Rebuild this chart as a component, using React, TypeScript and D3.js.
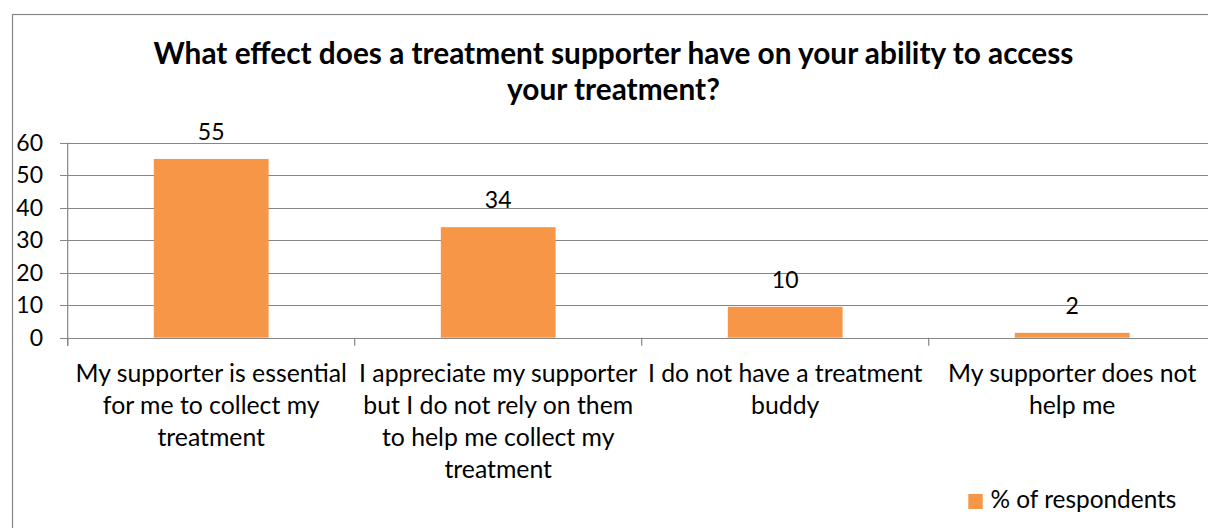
import React from 'react';
import * as d3 from 'd3';

const titleLines = [
  'What effect does a treatment supporter have on your ability to access',
  'your treatment?',
];
const categories = [
  'My supporter is essential\nfor me to collect my\ntreatment',
  'I appreciate my supporter\nbut I do not rely on them\nto help me collect my\ntreatment',
  'I do not have a treatment\nbuddy',
  'My supporter does not\nhelp me',
];
const values = [55, 34, 9.5, 1.5];
const yTicks = [0, 10, 20, 30, 40, 50, 60];
const seriesName = '% of respondents';

const W = 1208;
const H = 528;
const FONT = 'Lato, "Open Sans", sans-serif';
const GRID = '#868686';
const BAR = '#F79646';

export default function App() {
  const left = 67.7;
  const right = 1215.7;
  const top = 142.7;
  const bottom = 337.7;

  const x = d3
    .scaleBand<string>()
    .domain(categories)
    .range([left, right])
    .paddingInner(0.6)
    .paddingOuter(0.3);
  const y = d3.scaleLinear().domain([0, 60]).range([bottom, top]);
  const step = x.step();
  const fmt = d3.format('.0f');

  return (
    <svg
      width={W}
      height={H}
      style={{ position: 'fixed', left: 0, top: 0, background: '#fff' }}
      fontFamily={FONT}
    >
      <rect x={0} y={0} width={W} height={H} fill="#fff" />
      <rect x={12.5} y={14.5} width={1210} height={530} fill="none" stroke={GRID} strokeWidth={1.2} />

      {titleLines.map((t, i) => (
        <text
          key={i}
          x={613.5}
          y={64 + i * 36}
          textAnchor="middle"
          fontSize={29.8}
          fontWeight="bold"
          fill="#000"
        >
          {t}
        </text>
      ))}

      {yTicks.map((t) => (
        <g key={t}>
          <line x1={60} x2={right} y1={Math.round(y(t)) + 0.5} y2={Math.round(y(t)) + 0.5} stroke={GRID} strokeWidth={1.2} />
          <text x={43} y={y(t) + 8} textAnchor="end" fontSize={23} fill="#000">
            {t}
          </text>
        </g>
      ))}

      <line x1={left} x2={left} y1={top} y2={bottom + 8} stroke={GRID} strokeWidth={1.2} />
      {categories.map((c, i) => (
        <line
          key={'tk' + i}
          x1={left + step * i}
          x2={left + step * i}
          y1={bottom}
          y2={bottom + 8}
          stroke={GRID}
          strokeWidth={1.2}
        />
      ))}

      {categories.map((c, i) => (
        <rect
          key={'b' + i}
          x={x(c)}
          y={y(values[i])}
          width={x.bandwidth()}
          height={bottom - y(values[i])}
          fill={BAR}
        />
      ))}

      {categories.map((c, i) => (
        <text
          key={'v' + i}
          x={(x(c) as number) + x.bandwidth() / 2}
          y={y(values[i]) - 19}
          textAnchor="middle"
          fontSize={23}
          fill="#000"
        >
          {fmt(values[i])}
        </text>
      ))}

      {categories.map((c, i) => (
        <text
          key={'c' + i}
          x={(x(c) as number) + x.bandwidth() / 2}
          textAnchor="middle"
          fontSize={24.8}
          fill="#000"
        >
          {c.split('\n').map((ln, j) => (
            <tspan key={j} x={(x(c) as number) + x.bandwidth() / 2} y={382 + j * 32}>
              {ln}
            </tspan>
          ))}
        </text>
      ))}

      <rect x={968.3} y={494} width={14.4} height={15} fill={BAR} />
      <text x={990.5} y={507.5} fontSize={24.4} fill="#000">
        {seriesName}
      </text>
    </svg>
  );
}
